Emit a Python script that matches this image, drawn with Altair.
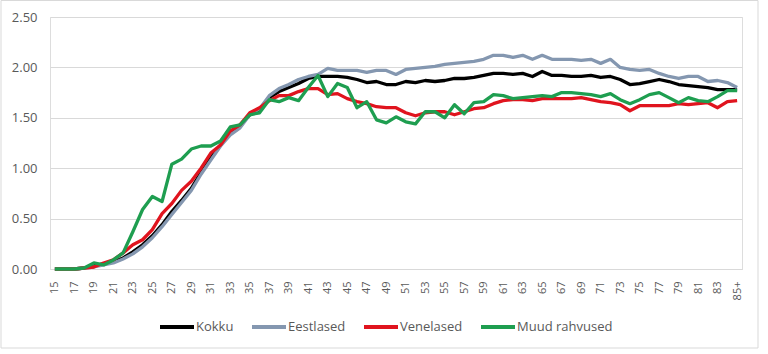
import altair as alt
import pandas as pd

ages = [str(a) for a in range(15, 85)] + ["85+"]

kokku = [0.00, 0.00, 0.00, 0.01, 0.03, 0.05, 0.07, 0.11, 0.17, 0.24,
         0.33, 0.44, 0.57, 0.68, 0.80, 0.96, 1.11, 1.23, 1.35, 1.43,
         1.53, 1.58, 1.70, 1.76, 1.80, 1.84, 1.89, 1.91, 1.91, 1.91,
         1.90, 1.88, 1.85, 1.86, 1.83, 1.83, 1.86, 1.85, 1.87, 1.86,
         1.87, 1.89, 1.89, 1.90, 1.92, 1.94, 1.94, 1.93, 1.94, 1.91,
         1.96, 1.92, 1.92, 1.91, 1.91, 1.92, 1.90, 1.91, 1.88, 1.83,
         1.84, 1.86, 1.88, 1.86, 1.83, 1.82, 1.81, 1.80, 1.78, 1.78,
         1.78]

eestlased = [0.00, 0.00, 0.00, 0.01, 0.02, 0.04, 0.06, 0.10, 0.15, 0.22,
             0.31, 0.42, 0.54, 0.66, 0.78, 0.94, 1.08, 1.22, 1.33, 1.40,
             1.53, 1.59, 1.72, 1.79, 1.83, 1.88, 1.91, 1.93, 1.99, 1.97,
             1.97, 1.97, 1.95, 1.97, 1.97, 1.93, 1.98, 1.99, 2.00, 2.01,
             2.03, 2.04, 2.05, 2.06, 2.08, 2.12, 2.12, 2.10, 2.12, 2.08,
             2.12, 2.08, 2.08, 2.08, 2.07, 2.08, 2.04, 2.08, 2.00, 1.98,
             1.97, 1.98, 1.94, 1.91, 1.89, 1.91, 1.91, 1.86, 1.87, 1.85,
             1.80]

venelased = [0.00, 0.00, 0.00, 0.01, 0.02, 0.06, 0.09, 0.16, 0.24, 0.29,
             0.39, 0.55, 0.65, 0.78, 0.87, 1.00, 1.15, 1.23, 1.37, 1.43,
             1.55, 1.60, 1.67, 1.72, 1.72, 1.76, 1.79, 1.79, 1.73, 1.74,
             1.69, 1.66, 1.64, 1.61, 1.60, 1.60, 1.55, 1.52, 1.55, 1.56,
             1.56, 1.53, 1.56, 1.59, 1.60, 1.64, 1.67, 1.68, 1.68, 1.67,
             1.69, 1.69, 1.69, 1.69, 1.70, 1.68, 1.66, 1.65, 1.63, 1.57,
             1.62, 1.62, 1.62, 1.62, 1.64, 1.63, 1.64, 1.65, 1.60, 1.66,
             1.67]

muud = [0.00, 0.00, 0.00, 0.01, 0.06, 0.04, 0.09, 0.16, 0.37, 0.59,
        0.72, 0.67, 1.04, 1.09, 1.19, 1.22, 1.22, 1.27, 1.41, 1.43,
        1.53, 1.55, 1.68, 1.66, 1.70, 1.67, 1.80, 1.92, 1.71, 1.84,
        1.80, 1.60, 1.66, 1.48, 1.45, 1.51, 1.46, 1.44, 1.56, 1.56,
        1.50, 1.63, 1.54, 1.65, 1.66, 1.73, 1.72, 1.69, 1.70, 1.71,
        1.72, 1.71, 1.75, 1.75, 1.74, 1.73, 1.71, 1.74, 1.68, 1.64,
        1.68, 1.73, 1.75, 1.70, 1.65, 1.70, 1.67, 1.66, 1.71, 1.77,
        1.77]

series_names = ["Kokku", "Eestlased", "Venelased", "Muud rahvused"]
series_colors = ["#000000", "#8497B0", "#E0141E", "#1E9E50"]
series_values = [kokku, eestlased, venelased, muud]

rows = []
for name, vals in zip(series_names, series_values):
    for i, (a, v) in enumerate(zip(ages, vals)):
        rows.append({"Vanus": a, "Väärtus": v, "Seeria": name, "idx": i})
df = pd.DataFrame(rows)

FONT = "Open Sans"
TXT = "#595959"
GRID = "#D9D9D9"

lines = alt.Chart(df).mark_line(strokeWidth=3.3, strokeJoin="round").encode(
    x=alt.X("Vanus:N", sort=ages,
            scale=alt.Scale(type="point", padding=0.5),
            axis=alt.Axis(title=None, values=ages[::2], labelAngle=-90,
                          ticks=False, labelPadding=12, labelFontSize=11,
                          labelFont=FONT, labelColor=TXT, grid=False,
                          domain=True, domainColor=GRID, domainWidth=1)),
    y=alt.Y("Väärtus:Q",
            scale=alt.Scale(domain=[0, 2.5], nice=False),
            axis=alt.Axis(title=None, values=[0, 0.5, 1.0, 1.5, 2.0, 2.5],
                          format=".2f", ticks=False, domain=False,
                          labelPadding=13, labelFontSize=13, labelFont=FONT,
                          labelColor=TXT, gridColor=GRID, gridWidth=1)),
    color=alt.Color("Seeria:N",
                    scale=alt.Scale(domain=series_names, range=series_colors),
                    legend=alt.Legend(title=None, orient="none",
                                      direction="horizontal",
                                      legendX=108, legendY=291,
                                      symbolType="stroke", symbolSize=1156,
                                      symbolStrokeWidth=4, labelOffset=0,
                                      columnPadding=10, labelFontSize=13,
                                      labelFont=FONT, labelColor=TXT)),
    order=alt.Order("idx:Q"),
)

frame = alt.Chart(pd.DataFrame({"k": [0]})).mark_rect(
    fill=None, stroke=GRID, strokeWidth=1
).encode(
    x=alt.value(-49), x2=alt.value(708),
    y=alt.value(-16.5), y2=alt.value(331),
)

chart = alt.layer(frame, lines).properties(
    width=692, height=252,
    autosize=alt.AutoSizeParams(type="none"),
    padding={"left": 50, "top": 17, "right": 26, "bottom": 85},
).configure_view(stroke=None).configure(background="white")

chart.save("out.html", embed_options={"renderer": "svg", "actions": False})
